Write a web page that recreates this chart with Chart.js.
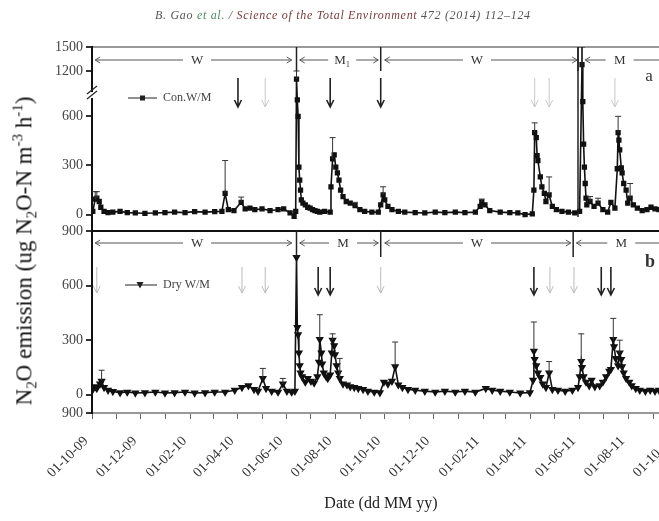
<!DOCTYPE html>
<html>
<head>
<meta charset="utf-8">
<script src="https://cdn.jsdelivr.net/npm/chart.js@4.4.0/dist/chart.umd.min.js"></script>
<style>
  html, body { margin: 0; padding: 0; background: #fff; }
  #wrap { position: relative; width: 659px; height: 521px; overflow: hidden; }
  canvas { position: absolute; left: 0; top: 0; }
  #header { position: absolute; top: 8px; left: 155px; white-space: nowrap; letter-spacing: 0.7px;
            font: italic 12px "Liberation Serif", serif; color: #555; }
  #ytitle { position: absolute; left: 25px; top: 251px; white-space: nowrap;
            transform: translate(-50%, -50%) rotate(-90deg);
            font: 23px "Liberation Serif", serif; color: #111; }
  #xtitle { position: absolute; left: 381px; top: 503px; white-space: nowrap;
            transform: translate(-50%, -50%);
            font: 16px "Liberation Serif", serif; color: #222; }
  sub, sup { font-size: 65%; }
</style>
</head>
<body>
<div id="wrap">
  <canvas id="myChart" width="659" height="521"></canvas>
  <div id="header">B. Gao <span style="color:#4a8a6a">et al.</span> / <span style="color:#7a3a3a">Science of the Total Environment</span> 472 (2014) 112–124</div>
  <div id="ytitle">N<sub>2</sub>O emission (ug N<sub>2</sub>O-N m<sup>-3</sup> h<sup>-1</sup>)</div>
  <div id="xtitle">Date (dd MM yy)</div>
</div>
<script>
// days counted from 01-10-09 (day 0)
// panel a: Con.W/M
const conDays = [1, 4, 6, 9, 11, 15, 20, 26, 35, 44,
  54, 66, 79, 91, 103, 116, 128, 141, 153, 162,
  166, 170, 177, 186, 191, 197, 203, 212, 222, 232,
  239, 247, 252, 254, 255, 256, 257, 258, 259, 260,
  261, 263, 266, 269, 272, 275, 278, 281, 284, 290,
  297, 298, 300, 302, 304, 306, 308, 310, 313, 317,
  322, 328, 334, 340, 349, 357, 360, 363, 365, 369,
  374, 382, 390, 403, 415, 428, 440, 453, 465, 478,
  484, 486, 490, 496, 509, 521, 531, 540, 549, 551,
  552, 554, 555, 556, 559, 561, 564, 566, 570, 574,
  579, 586, 594, 602, 608, 611, 612, 613, 614, 615,
  616, 617, 621, 626, 631, 637, 643, 647, 652, 655,
  656, 657, 658, 660, 661, 663, 666, 668, 671, 675,
  680, 686, 692, 697, 702, 707];
const conVals = [20, 95, 100, 80, 45, 20, 12, 15, 20, 12,
  10, 8, 10, 12, 15, 12, 18, 15, 18, 20,
  130, 30, 25, 75, 35, 40, 30, 35, 25, 30,
  35, 10, -10, 20, 1100, 700, 600, 290, 210, 150,
  90, 70, 60, 45, 40, 30, 25, 20, 15, 20,
  15, 170, 340, 365, 290, 255, 210, 150, 110, 80,
  70, 55, 30, 20, 15, 15, 60, 120, 90, 50,
  30, 20, 15, 12, 10, 15, 12, 15, 12, 15,
  50, 77, 60, 25, 15, 12, 10, 0, 5, 150,
  500, 470, 360, 330, 230, 170, 130, 80, 120, 50,
  30, 20, 15, 10, 20, 1280, 690, 430, 290, 190,
  100, 60, 80, 50, 70, 30, 15, 75, 40, 280,
  500, 455, 395, 285, 255, 190, 150, 70, 100, 60,
  40, 25, 30, 45, 35, 30];
// error bars: day and top of the bar
const conErrDays = [4, 6, 166, 186, 255, 300, 328, 363, 486, 552, 570, 611, 621, 631, 656, 671];
const conErrTop = [140, 140, 330, 107, 1200, 470, 75, 170, 95, 560, 230, 1500, 110, 100, 600, 190];

// panel b: Dry W/M
const dryDays = [1, 4, 6, 10, 12, 15, 20, 26, 35, 44,
  54, 66, 79, 91, 103, 116, 128, 141, 153, 166,
  178, 187, 195, 202, 207, 213, 217, 224, 232, 238,
  243, 249, 253, 255, 256, 257, 258, 259, 260, 262,
  266, 269, 273, 277, 281, 283, 284, 286, 287, 289,
  292, 294, 297, 299, 300, 302, 303, 305, 307, 309,
  313, 318, 322, 327, 332, 338, 344, 352, 359, 364,
  369, 374, 378, 382, 387, 394, 403, 415, 428, 440,
  453, 465, 478, 491, 499, 509, 521, 534, 546, 550,
  551, 552, 554, 556, 559, 562, 566, 570, 574, 581,
  590, 599, 606, 608, 610, 611, 613, 616, 620, 623,
  627, 633, 637, 641, 645, 647, 650, 651, 653, 656,
  658, 660, 661, 663, 666, 670, 673, 678, 683, 690,
  696, 702, 707];
const dryVals = [30, 45, 35, 60, 75, 40, 25, 18, 12, 15,
  10, 12, 15, 10, 12, 15, 10, 12, 15, 15,
  25, 40, 50, 30, 20, 90, 35, 20, 15, 60,
  20, 15, 20, 755, 370, 330, 230, 160, 120, 100,
  70, 90, 75, 65, 100, 180, 305, 230, 170, 120,
  100, 90, 110, 230, 300, 270, 220, 160, 120, 90,
  60, 55, 45, 40, 35, 30, 20, 15, 12, 70,
  60, 75, 155, 55, 40, 30, 25, 20, 15, 20,
  15, 20, 15, 35, 25, 20, 15, 10, 12, 80,
  240, 195, 160, 120, 95, 60, 40, 120, 30, 25,
  20, 25, 40, 100, 183, 150, 100, 70, 50, 80,
  45, 50, 70, 100, 130, 140, 305, 265, 200, 160,
  230, 195, 155, 120, 90, 70, 50, 35, 25, 20,
  25, 20, 25];
const dryErrDays = [12, 213, 238, 284, 300, 309, 378, 551, 570, 610, 650, 658];
const dryErrTop = [135, 145, 90, 440, 335, 200, 290, 400, 183, 335, 420, 300];

// x axis: a tick every month, a label every second month
const tickLabels = ['01-10-09', '01-12-09', '01-02-10', '01-04-10', '01-06-10', '01-08-10',
  '01-10-10', '01-12-10', '01-02-11', '01-04-11', '01-06-11', '01-08-11', '01-10-11'];
const yTicksA = [0, 300, 600, 1200, 1500];
const yTicksB = [-100, 0, 300, 600, 900];
const yLabelsB = ['900', '0', '300', '600', '900'];

// wet / moist periods [from day, to day, label, label day]
const seasonsA = [[4, 249, 'W', 131], [259, 357, 'M\u2081', 312], [365, 605, 'W', 480], [615, 740, 'M', 658]];
const seasonsB = [[4, 249, 'W', 131], [259, 357, 'M', 313], [365, 597, 'W', 480], [604, 740, 'M', 660]];
const sepDaysA = [255, 360, 606, 611];
const sepDaysB = [255, 360, 600];
// management events (down arrows)
const eventsA = [182, 297, 360];
const eventsAFaint = [216, 552, 570, 652];
const eventsB = [282, 297, 551, 635, 647];
const eventsBFaint = [6, 187, 216, 360, 571, 601];

const monthDays = [];
for (let m = 0; m < 2 * tickLabels.length - 1; m++) {
  monthDays.push((Date.UTC(2009, 9 + m, 1) - Date.UTC(2009, 9, 1)) / 864e5);
}

// broken y axis for panel a
const BREAK_LOW = 730, BREAK_HIGH = 900, BREAK_FRAC = 0.739;
class BrokenScale extends Chart.LinearScale {
  getPixelForValue(value) {
    if (value === null || isNaN(value)) return NaN;
    let dec;
    if (value <= BREAK_LOW) dec = (value - this.min) / (BREAK_LOW - this.min) * BREAK_FRAC;
    else if (value >= BREAK_HIGH) dec = BREAK_FRAC + (value - BREAK_HIGH) / (this.max - BREAK_HIGH) * (1 - BREAK_FRAC);
    else dec = BREAK_FRAC;
    return this.getPixelForDecimal(dec);
  }
  getValueForPixel(pixel) {
    const dec = this.getDecimalForPixel(pixel);
    if (dec <= BREAK_FRAC) return this.min + dec / BREAK_FRAC * (BREAK_LOW - this.min);
    return BREAK_HIGH + (dec - BREAK_FRAC) / (1 - BREAK_FRAC) * (this.max - BREAK_HIGH);
  }
}
BrokenScale.id = 'brokenLinear';
BrokenScale.defaults = Chart.LinearScale.defaults;
Chart.register(BrokenScale);

function toPoints(days, vals) {
  return days.map((d, i) => ({x: d, y: vals[i]}));
}
function errorSegments(days, vals, errDays, errTop) {
  const pts = [];
  errDays.forEach((d, i) => {
    const k = days.indexOf(d);
    if (k < 0) return;
    pts.push({x: d, y: vals[k]}, {x: d, y: errTop[i]}, {x: d, y: null});
  });
  return pts;
}

const SERIF = '"Liberation Serif", "Times New Roman", serif';
Chart.defaults.font.family = SERIF;
Chart.defaults.color = '#333';

// seasons, events, legend and the axis break
const decorations = {
  id: 'decorations',
  afterDraw(chart) {
    const {ctx, chartArea} = chart;
    const x = chart.scales.x, ya = chart.scales.ya, yb = chart.scales.yb;
    const px = d => x.getPixelForValue(d);
    ctx.save();
    ctx.textAlign = 'center';
    ctx.textBaseline = 'middle';

    function span(y, s) {
      const x1 = px(s[0]), x2 = px(s[1]), xm = px(s[3]);
      ctx.strokeStyle = '#555';
      ctx.lineWidth = 1;
      ctx.beginPath();
      ctx.moveTo(x1, y); ctx.lineTo(xm - 14, y);
      ctx.moveTo(xm + 14, y); ctx.lineTo(x2, y);
      ctx.moveTo(x1 + 5, y - 3); ctx.lineTo(x1, y); ctx.lineTo(x1 + 5, y + 3);
      ctx.moveTo(x2 - 5, y - 3); ctx.lineTo(x2, y); ctx.lineTo(x2 - 5, y + 3);
      ctx.stroke();
      ctx.fillStyle = '#333';
      ctx.font = '13px ' + SERIF;
      ctx.fillText(s[2], xm, y + 1);
    }
    function downArrow(d, y1, y2, color, width) {
      const xx = px(d);
      ctx.strokeStyle = color;
      ctx.lineWidth = width;
      ctx.beginPath();
      ctx.moveTo(xx, y1); ctx.lineTo(xx, y2);
      ctx.moveTo(xx - 3.5, y2 - 7); ctx.lineTo(xx, y2); ctx.lineTo(xx + 3.5, y2 - 7);
      ctx.stroke();
    }
    function separator(d, y1, y2) {
      ctx.strokeStyle = '#222';
      ctx.lineWidth = 1.5;
      ctx.beginPath();
      ctx.moveTo(px(d), y1); ctx.lineTo(px(d), y2);
      ctx.stroke();
    }

    seasonsA.forEach(s => span(ya.top + 13, s));
    seasonsB.forEach(s => span(yb.top + 12, s));
    sepDaysA.forEach(d => separator(d, ya.top, ya.top + 24));
    separator(606, ya.top, ya.bottom - 14);
    sepDaysB.forEach(d => separator(d, yb.top, yb.top + 26));

    eventsAFaint.forEach(d => downArrow(d, ya.top + 31, ya.top + 60, '#c8c8c8', 1));
    eventsA.forEach(d => downArrow(d, ya.top + 31, ya.top + 60, '#222', 1.6));
    eventsBFaint.forEach(d => downArrow(d, yb.top + 36, yb.top + 62, '#bbb', 1));
    eventsB.forEach(d => downArrow(d, yb.top + 36, yb.top + 64, '#222', 1.6));

    // axis break on panel a
    const yBr = ya.getPixelForValue(BREAK_HIGH);
    const xl = chartArea.left;
    ctx.fillStyle = '#fff';
    ctx.fillRect(xl - 2, yBr - 3, 5, 6);
    ctx.strokeStyle = '#222';
    ctx.lineWidth = 1.2;
    ctx.beginPath();
    ctx.moveTo(xl - 5, yBr - 1); ctx.lineTo(xl + 5, yBr - 9);
    ctx.moveTo(xl - 5, yBr + 4); ctx.lineTo(xl + 5, yBr - 4);
    ctx.stroke();

    // legends
    ctx.textAlign = 'left';
    ctx.font = '12px ' + SERIF;
    ctx.strokeStyle = '#222';
    ctx.fillStyle = '#222';
    ctx.lineWidth = 1;
    let ly = ya.top + 51;
    ctx.beginPath(); ctx.moveTo(xl + 36, ly); ctx.lineTo(xl + 65, ly); ctx.stroke();
    ctx.fillRect(xl + 48, ly - 2.5, 5, 5);
    ctx.fillStyle = '#444';
    ctx.fillText('Con.W/M', xl + 71, ly);
    ly = yb.top + 54;
    ctx.fillStyle = '#222';
    ctx.beginPath(); ctx.moveTo(xl + 33, ly); ctx.lineTo(xl + 65, ly); ctx.stroke();
    ctx.beginPath();
    ctx.moveTo(xl + 44.5, ly - 3); ctx.lineTo(xl + 51.5, ly - 3); ctx.lineTo(xl + 48, ly + 3.5);
    ctx.closePath(); ctx.fill();
    ctx.fillStyle = '#444';
    ctx.fillText('Dry W/M', xl + 71, ly);

    // panel letters
    ctx.fillStyle = '#333';
    ctx.font = '17px ' + SERIF;
    ctx.textAlign = 'center';
    ctx.fillText('a', chartArea.right - 10, ya.top + 30);
    ctx.font = 'bold 18px ' + SERIF;
    ctx.fillText('b', chartArea.right - 9, yb.top + 31);
    ctx.restore();
  }
};

const errPointRadius = c => (c.dataIndex % 3 === 1 ? 3 : 0);

const ctx = document.getElementById('myChart');
const myChart = new Chart(ctx, {
  type: 'line',
  data: {
    datasets: [
      {
        data: errorSegments(conDays, conVals, conErrDays, conErrTop),
        yAxisID: 'ya',
        borderColor: '#333',
        borderWidth: 1,
        pointStyle: 'line',
        pointRadius: errPointRadius,
        pointBorderColor: '#333',
        pointBorderWidth: 1,
        spanGaps: false
      },
      {
        data: toPoints(conDays, conVals),
        label: 'Con.W/M',
        yAxisID: 'ya',
        borderColor: '#111',
        borderWidth: 1.6,
        pointStyle: 'rect',
        pointRadius: 2.6,
        pointBackgroundColor: '#111',
        pointBorderColor: '#111',
        lineTension: 0
      },
      {
        data: errorSegments(dryDays, dryVals, dryErrDays, dryErrTop),
        yAxisID: 'yb',
        borderColor: '#333',
        borderWidth: 1,
        pointStyle: 'line',
        pointRadius: errPointRadius,
        pointBorderColor: '#333',
        pointBorderWidth: 1,
        spanGaps: false
      },
      {
        data: toPoints(dryDays, dryVals),
        label: 'Dry W/M',
        yAxisID: 'yb',
        borderColor: '#111',
        borderWidth: 1.6,
        pointStyle: 'triangle',
        pointRotation: 180,
        pointRadius: 3.2,
        pointBackgroundColor: '#111',
        pointBorderColor: '#111',
        lineTension: 0
      }
    ]
  },
  options: {
    responsive: false,
    animation: false,
    layout: {padding: {left: 32, top: 47, right: 0, bottom: 0}, autoPadding: false},
    plugins: {legend: {display: false}, tooltip: {enabled: false}},
    scales: {
      x: {
        type: 'linear',
        min: 0,
        max: 707,
        border: {color: '#999', width: 2},
        grid: {drawOnChartArea: false, tickLength: 6, color: '#666'},
        afterBuildTicks: s => { s.ticks = monthDays.map(v => ({value: v})); },
        ticks: {
          autoSkip: false,
          minRotation: 45,
          maxRotation: 45,
          padding: 14,
          labelOffset: -6,
          color: '#333',
          font: {size: 14},
          callback: (v, i) => (i % 2 === 0 ? tickLabels[i / 2] : '')
        },
        afterFit: s => { s.height = 108; s.paddingLeft = 0; s.paddingRight = 0; }
      },
      yb: {
        type: 'linear',
        position: 'left',
        stack: 'panels',
        stackWeight: 182,
        min: -100,
        max: 900,
        border: {color: '#111', width: 2},
        grid: {
          color: c => (c.tick && c.tick.value === 900 ? '#111' : 'rgba(0,0,0,0)'),
          lineWidth: 2,
          tickColor: '#333',
          tickLength: 6
        },
        afterBuildTicks: s => { s.ticks = yTicksB.map(v => ({value: v})); },
        ticks: {
          font: {size: 14},
          color: '#444',
          padding: 3,
          callback: (v, i) => yLabelsB[i]
        },
        afterFit: s => { s.width = 60; }
      },
      ya: {
        type: 'brokenLinear',
        position: 'left',
        stack: 'panels',
        stackWeight: 184,
        min: -100,
        max: 1500,
        border: {color: '#111', width: 2},
        grid: {
          color: c => (c.tick && c.tick.value === 1500 ? '#999' : 'rgba(0,0,0,0)'),
          lineWidth: 2,
          tickColor: '#333',
          tickLength: 6
        },
        afterBuildTicks: s => { s.ticks = yTicksA.map(v => ({value: v})); },
        ticks: {
          font: {size: 14},
          color: '#444',
          padding: 3,
          callback: v => String(v)
        },
        afterFit: s => { s.width = 60; }
      }
    }
  },
  plugins: [decorations]
});
</script>
</body>
</html>
